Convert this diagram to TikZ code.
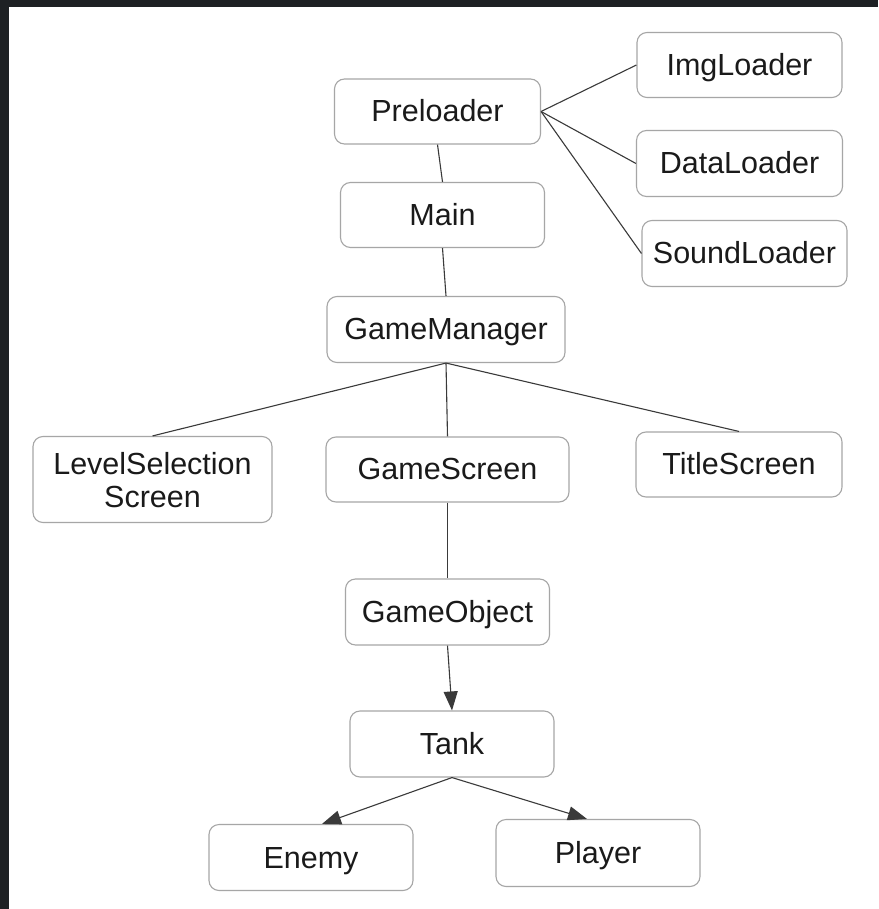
\documentclass[tikz,border=0pt]{standalone}
\usepackage{fontspec}
\setmainfont{Liberation Sans}
\usetikzlibrary{arrows.meta}
\definecolor{frame}{HTML}{1E2124}
\definecolor{boxline}{HTML}{A6A6A6}
\definecolor{edge}{HTML}{3A3A3A}
\definecolor{txt}{HTML}{1A1A1A}
\newcommand\capbox[1]{\smash{#1}\vphantom{H}}
\begin{document}
\begin{tikzpicture}[x=1pt,y=-1pt,
  cls/.style={draw=boxline, line width=1.1pt, rounded corners=10pt, fill=white,
    inner sep=0pt, text=txt, font=\fontsize{30.5}{33}\selectfont},
  link/.style={draw=edge, line width=1.1pt},
  arr/.style={link, -{Triangle[length=19pt,width=14pt]}}]
\useasboundingbox (0,0) rectangle (878,909);
\fill[white] (0,0) rectangle (878,909);
\fill[frame] (0,0) rectangle (878,7);
\fill[frame] (0,0) rectangle (9,909);

\node[cls, minimum width=206pt, minimum height=65pt] (pre) at (437.5,111.5) {\capbox{Preloader}};
\node[cls, minimum width=205pt, minimum height=65pt] (img) at (739.5,65) {\capbox{ImgLoader}};
\node[cls, minimum width=206pt, minimum height=66pt] (data) at (739.5,163.5) {\capbox{DataLoader}};
\node[cls, minimum width=205pt, minimum height=66pt] (sound) at (744.5,253.5) {\capbox{SoundLoader}};
\node[cls, minimum width=204pt, minimum height=65pt] (main) at (442.5,215) {\capbox{Main}};
\node[cls, minimum width=238pt, minimum height=66pt] (gm) at (446,329.5) {\capbox{GameManager}};
\node[cls, minimum width=239pt, minimum height=86pt] (lss) at (152.5,479.5)
  {\rule{0pt}{55pt}\smash{\begin{tabular}[b]{@{}c@{}}LevelSelection\\Screen\end{tabular}}};
\node[cls, minimum width=243pt, minimum height=65pt] (gs) at (447.5,469.5) {\capbox{GameScreen}};
\node[cls, minimum width=206pt, minimum height=65pt] (ts) at (739,464.5) {\capbox{TitleScreen}};
\node[cls, minimum width=204pt, minimum height=66pt] (go) at (447.5,612) {\capbox{GameObject}};
\node[cls, minimum width=204pt, minimum height=66pt] (tank) at (452,744) {\capbox{Tank}};
\node[cls, minimum width=204pt, minimum height=66pt] (enemy) at (311,857.5) {\capbox{Enemy}};
\node[cls, minimum width=204pt, minimum height=67pt] (player) at (598,853) {\capbox{Player}};

\draw[link] (pre.east) -- (img.west);
\draw[link] (pre.east) -- (data.west);
\draw[link] (pre.east) -- (sound.west);
\draw[link] (pre.south) -- (main.north);
\draw[link] (main.south) -- (gm.north);
\draw[link] (gm.south) -- (lss.north);
\draw[link] (gm.south) -- (gs.north);
\draw[link] (gm.south) -- (ts.north);
\draw[link] (gs.south) -- (go.north);
\draw[arr] (go.south) -- (tank.north);
\draw[arr] (tank.south) -- ([xshift=11pt]enemy.north);
\draw[arr] (tank.south) -- ([xshift=-11pt]player.north);
\end{tikzpicture}
\end{document}
